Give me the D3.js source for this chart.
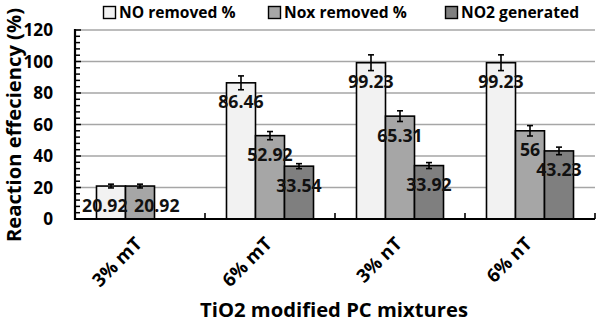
<!DOCTYPE html>
<html><head><meta charset="utf-8">
<script src="https://cdn.jsdelivr.net/npm/d3@7"></script>
<style>
html,body{margin:0;padding:0;background:#fff;}
svg{display:block;font-family:"Open Sans",sans-serif;font-weight:bold;}
</style></head>
<body><svg id="c" width="600" height="323"></svg>
<script>
const categories = ["3% mT", "6% mT", "3% nT", "6% nT"];
const seriesNames = ["NO removed %", "Nox removed %", "NO2 generated"];
const noRemoved = [20.92, 86.46, 99.23, 99.23];
const noxRemoved = [20.92, 52.92, 65.31, 56];
const no2Generated = [null, 33.54, 33.92, 43.23];
const noRemovedErr = [1.2, 4.4, 5.0, 5.0];
const noxRemovedErr = [1.2, 2.6, 3.4, 3.3];
const no2GeneratedErr = [null, 1.6, 1.9, 2.4];
const yTicks = [0, 20, 40, 60, 80, 100, 120];
const colors = ["#f2f2f2", "#a6a6a6", "#7f7f7f"];

(function () {
const values = [noRemoved, noxRemoved, no2Generated];
const errs = [noRemovedErr, noxRemovedErr, no2GeneratedErr];
const FONT = "Open Sans";

const svg = d3.select("#c");
const pL = 75, pR = 595, pT = 30, pB = 219;

// font size that makes `str` about `target` px long
function fitSize(str, target) {
  const t = svg.append("text").attr("font-family", FONT).attr("font-weight", "bold")
    .attr("font-size", 20).text(str);
  const w = t.node().getComputedTextLength();
  t.remove();
  return w > 0 ? 20 * target / w : 16;
}

const x = d3.scaleBand().domain(categories).range([pL, pR]);
const xs = d3.scaleBand().domain(seriesNames).range([0, x.bandwidth()]).paddingOuter(0.741).paddingInner(0);
const y = d3.scaleLinear().domain([0, 120]).range([pB, pT]);

// gridlines
svg.append("g").selectAll("line").data(yTicks.filter(d => d > 0)).join("line")
  .attr("x1", pL).attr("x2", pR)
  .attr("y1", d => y(d)).attr("y2", d => y(d))
  .attr("stroke", "#a6a6a6").attr("stroke-width", 1.3);

// minor ticks on y axis
const minor = d3.range(0, 121, 4);
svg.append("g").selectAll("line").data(minor).join("line")
  .attr("x1", pL).attr("x2", d => d % 20 === 0 ? pL + 6 : pL + 5)
  .attr("y1", d => y(d)).attr("y2", d => y(d))
  .attr("stroke", "#000").attr("stroke-width", 1.5);

// y axis labels
const yAxis = d3.axisLeft(y).tickValues(yTicks).tickSize(0).tickPadding(22);
const ya = svg.append("g").attr("transform", `translate(${pL},0)`).call(yAxis);
ya.select(".domain").remove();
ya.selectAll("text").attr("font-size", fitSize("120", 29.5)).attr("font-family", FONT)
  .attr("font-weight", "bold").attr("fill", "#000");

// bars
const rows = [];
seriesNames.forEach((s, si) => categories.forEach((c, ci) => {
  if (values[si][ci] != null) rows.push({s, si, c, ci, v: values[si][ci], e: errs[si][ci]});
}));

svg.append("g").selectAll("rect").data(rows).join("rect")
  .attr("x", d => x(d.c) + xs(d.s))
  .attr("y", d => y(d.v))
  .attr("width", xs.bandwidth())
  .attr("height", d => y(0) - y(d.v))
  .attr("fill", d => colors[d.si])
  .attr("stroke", "#000").attr("stroke-width", 1.6);

// error bars
const eg = svg.append("g").attr("stroke", "#000").attr("stroke-width", 1.6);
rows.forEach(d => {
  const cx = x(d.c) + xs(d.s) + xs.bandwidth() / 2;
  const y1 = y(d.v + d.e), y2 = y(d.v - d.e);
  eg.append("line").attr("x1", cx).attr("x2", cx).attr("y1", y1).attr("y2", y2);
  eg.append("line").attr("x1", cx - 3).attr("x2", cx + 3).attr("y1", y1).attr("y2", y1);
  eg.append("line").attr("x1", cx - 3).attr("x2", cx + 3).attr("y1", y2).attr("y2", y2);
});

// axes lines
svg.append("line").attr("x1", pL).attr("x2", pL).attr("y1", pT - 1).attr("y2", pB + 1)
  .attr("stroke", "#000").attr("stroke-width", 2.2);
svg.append("line").attr("x1", pL - 1).attr("x2", pR).attr("y1", pB).attr("y2", pB)
  .attr("stroke", "#000").attr("stroke-width", 2.2);
// x category boundary ticks
svg.append("g").selectAll("line").data(categories).join("line")
  .attr("x1", d => x(d) + x.bandwidth()).attr("x2", d => x(d) + x.bandwidth())
  .attr("y1", pB).attr("y2", pB - 6)
  .attr("stroke", "#000").attr("stroke-width", 1.6);

// value labels
const labelSize = fitSize("86.46", 45.5);
const labels = rows.map(d => {
  const cx = x(d.c) + xs(d.s) + xs.bandwidth() / 2;
  const by = Math.min(y(d.v) + 25.5, y(0) - 4.5);
  return {d, cx, by, txt: String(d.v)};
});
// avoid overlapping labels within the same category at the same height
const lw = 45;
categories.forEach(c => {
  const ls = labels.filter(l => l.d.c === c).sort((a, b) => a.cx - b.cx);
  for (let i = 1; i < ls.length; i++) {
    const a = ls[i - 1], b = ls[i];
    if (Math.abs(a.by - b.by) < 12 && b.cx - a.cx < lw + 7) {
      const need = lw + 7 - (b.cx - a.cx);
      a.cx -= need * 0.27; b.cx += need * 0.73;
    }
  }
});
svg.append("g").selectAll("text").data(labels).join("text")
  .attr("x", l => l.cx).attr("y", l => l.by)
  .attr("text-anchor", "middle").attr("font-size", labelSize).attr("fill", "#111")
  .text(l => l.txt);

// category labels
const catSize = fitSize("3% mT", 61);
svg.append("g").selectAll("text").data(categories).join("text")
  .attr("transform", d => `translate(${x(d) + x.bandwidth() / 2 + 3},245) rotate(-45)`)
  .attr("text-anchor", "end").attr("font-size", catSize).attr("fill", "#000")
  .text(d => d);

// axis titles
svg.append("text").attr("transform", "translate(21,125) rotate(-90)")
  .attr("text-anchor", "middle").attr("font-size", fitSize("Reaction effeciency (%)", 234))
  .text("Reaction effeciency (%)");
svg.append("text").attr("x", 334).attr("y", 317)
  .attr("text-anchor", "middle").attr("font-size", fitSize("TiO2 modified PC mixtures", 268))
  .text("TiO2 modified PC mixtures");

// legend
const legX = [103, 268, 445];
const legSize = fitSize("Nox removed %", 123);
const lg = svg.append("g").selectAll("g").data(seriesNames).join("g")
  .attr("transform", (d, i) => `translate(${legX[i]},6)`);
lg.append("rect").attr("x", 0.5).attr("y", 0.5).attr("width", 12).attr("height", 12).attr("fill", (d, i) => colors[i])
  .attr("stroke", "#000").attr("stroke-width", 1.4);
lg.append("text").attr("x", 16).attr("y", 11.5).attr("font-size", legSize).text(d => d);
})();
</script></body></html>
